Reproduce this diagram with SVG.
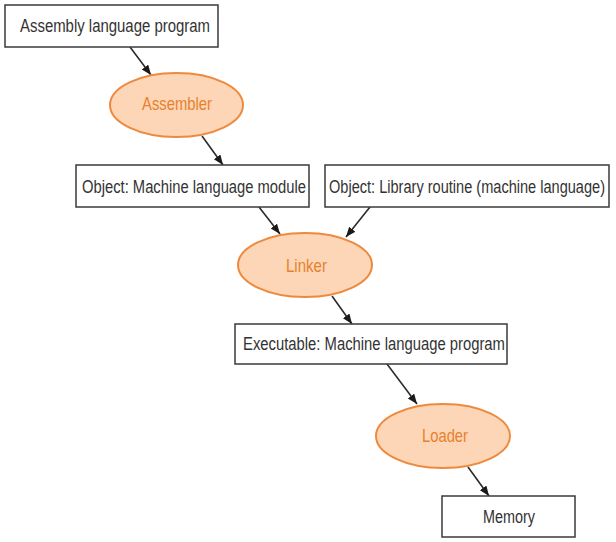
<svg xmlns="http://www.w3.org/2000/svg" width="616" height="542" viewBox="0 0 616 542">
<style>
.box{fill:#ffffff;stroke:#3a3a3a;stroke-width:1.5}
.ell{fill:#fcd6b6;stroke:#ee8a3e;stroke-width:2}
.bt{font-family:"Liberation Sans",Arial,sans-serif;font-size:18.5px;fill:#333333}
.et{font-family:"Liberation Sans",Arial,sans-serif;font-size:18px;fill:#e8812e}
.edge{stroke:#2a2a2a;stroke-width:1.6;fill:none;marker-end:url(#arr)}
</style>
<defs>
<marker id="arr" markerUnits="userSpaceOnUse" markerWidth="12" markerHeight="10" refX="10" refY="4" orient="auto">
<path d="M0,0 L10,4 L0,8 Z" fill="#1a1a1a"/>
</marker>
</defs>
<rect width="616" height="542" fill="#ffffff"/>
<g id="connectors">
<line class="edge" x1="130" y1="47" x2="151" y2="75"/>
<line class="edge" x1="202" y1="136" x2="223" y2="165"/>
<line class="edge" x1="259" y1="207" x2="280" y2="234"/>
<line class="edge" x1="370" y1="207" x2="346" y2="237"/>
<line class="edge" x1="332" y1="296" x2="352" y2="324"/>
<line class="edge" x1="387" y1="364" x2="417" y2="404"/>
<line class="edge" x1="468" y1="467" x2="489" y2="496"/>
</g>
<g id="asm-program">
<rect class="box" x="5" y="5" width="213" height="42"/>
<text class="bt" transform="translate(20,32) scale(0.79,1)" font-size="19" textLength="240.5" lengthAdjust="spacingAndGlyphs">Assembly language program</text>
</g>
<g id="assembler">
<ellipse class="ell" cx="176.5" cy="105" rx="66.5" ry="32"/>
<text class="et" transform="translate(142,110) scale(0.79,1)" textLength="88.6" lengthAdjust="spacingAndGlyphs">Assembler</text>
</g>
<g id="object-module">
<rect class="box" x="76" y="165" width="233" height="42"/>
<text class="bt" transform="translate(82,193) scale(0.79,1)" textLength="283.5" lengthAdjust="spacingAndGlyphs">Object: Machine language module</text>
</g>
<g id="library-routine">
<rect class="box" x="325" y="165" width="284" height="42"/>
<text class="bt" transform="translate(329,193) scale(0.79,1)" textLength="349.4" lengthAdjust="spacingAndGlyphs">Object: Library routine (machine language)</text>
</g>
<g id="linker">
<ellipse class="ell" cx="305" cy="265" rx="67" ry="32"/>
<text class="et" transform="translate(286,272) scale(0.79,1)" textLength="51.9" lengthAdjust="spacingAndGlyphs">Linker</text>
</g>
<g id="executable">
<rect class="box" x="235" y="324" width="272" height="40"/>
<text class="bt" transform="translate(243,350) scale(0.79,1)" textLength="331.6" lengthAdjust="spacingAndGlyphs">Executable: Machine language program</text>
</g>
<g id="loader">
<ellipse class="ell" cx="443" cy="436" rx="67" ry="32"/>
<text class="et" transform="translate(422,442) scale(0.79,1)" textLength="58.2" lengthAdjust="spacingAndGlyphs">Loader</text>
</g>
<g id="memory">
<rect class="box" x="442" y="496" width="133" height="41"/>
<text class="bt" transform="translate(483,523) scale(0.79,1)" textLength="65.8" lengthAdjust="spacingAndGlyphs">Memory</text>
</g>
</svg>
